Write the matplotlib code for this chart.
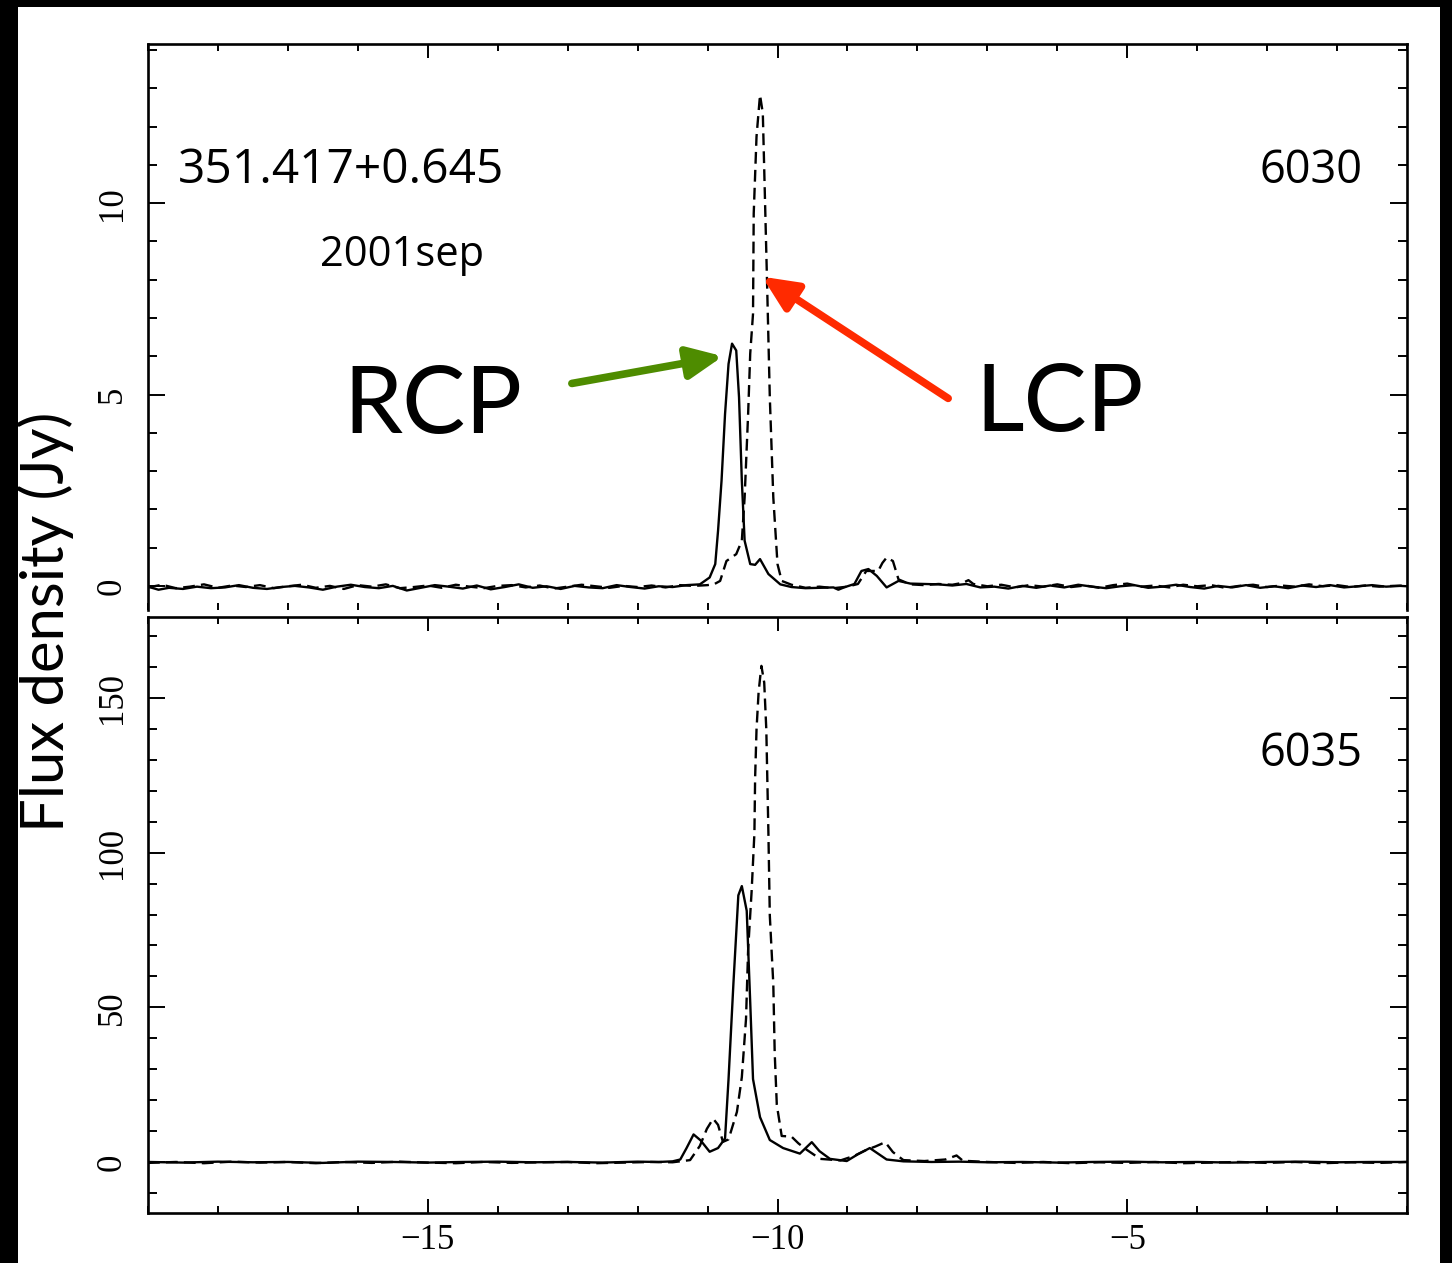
import matplotlib
matplotlib.use("Agg")
import matplotlib.pyplot as plt
from matplotlib.patches import Rectangle
from matplotlib.ticker import MultipleLocator, FixedLocator

# ---------------- data (velocity km/s, flux density Jy) ----------------
# Top panel: 6030 MHz
top_rcp_v = [-19.0, -18.85, -18.7, -18.5, -18.3, -18.1, -17.9, -17.7, -17.5, -17.3,
             -17.1, -16.9, -16.7, -16.5, -16.3, -16.1, -15.9, -15.7, -15.5, -15.3,
             -15.1, -14.9, -14.7, -14.5, -14.3, -14.1, -13.9, -13.7, -13.5, -13.3,
             -13.1, -12.9, -12.7, -12.5, -12.3, -12.1, -11.9, -11.7, -11.5, -11.3,
             -11.11, -10.97, -10.89, -10.85, -10.80, -10.75, -10.70, -10.65, -10.59,
             -10.55, -10.51, -10.47, -10.39, -10.32, -10.25, -10.13, -9.96,
             -9.8, -9.6, -9.4, -9.2, -9.13, -9.05, -8.9, -8.8, -8.7, -8.58, -8.44,
             -8.27, -8.1, -7.9, -7.7, -7.5, -7.3, -7.1, -6.9, -6.7, -6.5, -6.3,
             -6.1, -5.9, -5.7, -5.5, -5.3, -5.1, -4.9, -4.7, -4.5, -4.3, -4.1,
             -3.9, -3.7, -3.5, -3.3, -3.1, -2.9, -2.7, -2.5, -2.3, -2.1, -1.9,
             -1.7, -1.5, -1.3, -1.1, -1.0]
top_rcp_f = [-0.02, -0.10, -0.05, -0.08, -0.02, -0.06, -0.04, 0.02, -0.05, -0.08,
             -0.03, 0.00, -0.04, -0.10, -0.02, 0.03, -0.03, -0.06, 0.00, -0.12,
             -0.05, 0.02, -0.02, -0.07, 0.01, -0.09, -0.03, 0.04, -0.05, -0.01,
             -0.08, 0.00, -0.04, -0.06, 0.02, -0.03, -0.07, -0.01, -0.03, 0.02,
             0.04, 0.22, 0.57, 1.44, 2.75, 4.49, 5.80, 6.33, 6.15,
             4.93, 2.75, 1.18, 0.57, 0.55, 0.70, 0.31, 0.04,
             -0.03, -0.06, -0.05, -0.04, -0.10, -0.04, 0.05, 0.39, 0.44, 0.26, -0.04,
             0.13, 0.06, 0.05, 0.04, 0.01, 0.05, -0.04, -0.02, -0.07, 0.00, -0.05,
             0.01, -0.04, 0.03, -0.02, -0.06, -0.01, 0.02, -0.05, -0.02, 0.03, -0.03,
             -0.07, 0.00, -0.04, 0.02, -0.05, -0.01, -0.06, 0.01, -0.03, 0.02, -0.04,
             -0.01, 0.02, -0.02, 0.00, -0.01]

top_lcp_v = [-19.0, -18.8, -18.6, -18.4, -18.2, -18.0, -17.8, -17.6, -17.4, -17.2,
             -17.0, -16.8, -16.6, -16.4, -16.2, -16.0, -15.8, -15.6, -15.4, -15.2,
             -15.0, -14.8, -14.6, -14.4, -14.2, -14.0, -13.8, -13.6, -13.4, -13.2,
             -13.0, -12.8, -12.6, -12.4, -12.2, -12.0, -11.8, -11.6, -11.4, -11.2,
             -11.0, -10.9, -10.82, -10.73, -10.59, -10.51, -10.47, -10.42, -10.39,
             -10.35, -10.34, -10.30, -10.25, -10.21, -10.18, -10.15, -10.11, -10.06,
             -10.00, -9.94, -9.8, -9.6, -9.4, -9.2, -9.0, -8.85, -8.73, -8.56, -8.50,
             -8.44, -8.35, -8.27, -8.1, -7.9, -7.7, -7.5, -7.35, -7.27, -7.2, -7.0,
             -6.8, -6.6, -6.4, -6.2, -6.0, -5.8, -5.6, -5.4, -5.2, -5.0, -4.8, -4.6,
             -4.4, -4.2, -4.0, -3.8, -3.6, -3.4, -3.2, -3.0, -2.8, -2.6, -2.4, -2.2,
             -2.0, -1.8, -1.6, -1.4, -1.2, -1.0]
top_lcp_f = [-0.04, 0.03, -0.06, -0.02, 0.04, -0.05, 0.01, -0.03, 0.02, -0.06,
             -0.01, 0.03, -0.05, 0.00, -0.08, 0.02, -0.02, 0.04, -0.06, -0.03,
             0.01, -0.05, 0.03, -0.02, -0.06, 0.00, 0.02, -0.04, 0.01, -0.07,
             -0.02, 0.03, -0.01, -0.05, 0.00, -0.03, 0.01, -0.04, 0.02, 0.00,
             0.02, 0.05, 0.13, 0.65, 0.83, 1.18, 2.31, 4.49, 6.07,
             7.11, 9.73, 11.74, 12.83, 12.35, 10.17, 7.98, 4.93, 2.31,
             0.57, 0.13, 0.03, -0.05, -0.02, -0.06, -0.02, 0.05, 0.39, 0.39, 0.60,
             0.74, 0.65, 0.17, 0.04, 0.02, 0.05, 0.03, 0.08, 0.15, 0.05, -0.01,
             0.03, -0.04, 0.02, -0.02, 0.04, -0.03, 0.01, -0.05, 0.02, 0.06, -0.02, 0.01,
             -0.04, 0.03, -0.01, 0.02, -0.05, 0.00, 0.03, -0.03, 0.01, -0.02, 0.04, -0.01,
             0.02, -0.03, 0.01, -0.02, 0.00, 0.01]

# Bottom panel: 6035 MHz
bot_rcp_v = [-19.0, -18.5, -18.0, -17.5, -17.0, -16.5, -16.0, -15.5, -15.0, -14.5,
             -14.0, -13.5, -13.0, -12.5, -12.0, -11.7, -11.5, -11.39, -11.3, -11.20,
             -11.1, -10.97, -10.85, -10.75, -10.70, -10.63, -10.56, -10.51, -10.44,
             -10.39, -10.35, -10.25, -10.11, -9.92, -9.68, -9.51, -9.4, -9.25, -9.01,
             -8.85, -8.68, -8.55, -8.44, -8.2, -7.8, -7.4, -7.0, -6.5, -6.0, -5.5,
             -5.0, -4.5, -4.0, -3.5, -3.0, -2.5, -2.0, -1.5, -1.0]
bot_rcp_f = [0.0, -0.2, 0.1, -0.1, 0.0, -0.3, 0.1, 0.0, -0.2, 0.0,
             0.1, -0.1, 0.0, -0.2, 0.1, 0.0, 0.2, 0.8, 4.5, 8.9,
             7.0, 3.3, 4.5, 7.6, 26.8, 57.8, 86.2, 89.2, 81.2,
             51.6, 26.8, 14.5, 7.1, 4.5, 2.7, 6.4, 3.5, 1.0, 0.3,
             2.5, 4.5, 2.5, 0.8, 0.2, 0.0, 0.1, -0.1, 0.0, -0.2, 0.0,
             0.1, -0.1, 0.0, -0.2, 0.0, 0.1, -0.1, 0.0, 0.0]

bot_lcp_v = [-19.0, -18.6, -18.2, -17.8, -17.4, -17.0, -16.6, -16.2, -15.8, -15.4,
             -15.0, -14.6, -14.2, -13.8, -13.4, -13.0, -12.6, -12.2, -11.8, -11.5,
             -11.25, -11.11, -11.01, -10.92, -10.85, -10.78, -10.70, -10.58, -10.51,
             -10.45, -10.42, -10.37, -10.33, -10.32, -10.30, -10.27, -10.23, -10.19,
             -10.16, -10.13, -10.11, -10.06, -10.04, -10.01, -9.94, -9.80, -9.70,
             -9.58, -9.39, -9.1, -8.9, -8.73, -8.6, -8.46, -8.35, -8.2, -7.9, -7.6,
             -7.44, -7.35, -7.0, -6.6, -6.2, -5.8, -5.4, -5.0, -4.6, -4.2, -3.8,
             -3.4, -3.0, -2.6, -2.2, -1.8, -1.4, -1.0]
bot_lcp_f = [-0.3, 0.0, -0.4, 0.1, -0.2, 0.0, -0.4, 0.0, -0.3, 0.1,
             -0.2, -0.4, 0.0, -0.3, -0.1, 0.0, -0.4, -0.2, 0.0, -0.1,
             0.6, 5.2, 10.7, 14.0, 12.0, 6.5, 7.3, 16.2, 27.4,
             46.3, 68.6, 87.5, 106.4, 124.2, 139.8, 152.0, 160.4, 155.0,
             139.8, 106.4, 79.7, 57.5, 35.2, 18.5, 8.4, 8.2, 6.0,
             3.9, 1.0, 0.5, 2.0, 3.9, 5.0, 6.4, 3.2, 0.6, 0.3, 0.8,
             2.1, 0.4, 0.0, -0.3, 0.0, -0.4, -0.1, -0.3, 0.0, -0.4, -0.2,
             0.0, -0.3, 0.0, -0.4, -0.1, -0.3, 0.0]

x_major = [-15, -10, -5]
top_y_major = [0, 5, 10]
bot_y_major = [0, 50, 100, 150]

# ---------------- figure ----------------
W, H = 1452, 1263
fig = plt.figure(figsize=(W / 100, H / 100), dpi=100, facecolor="black")
fig.patches.append(Rectangle((18 / W, 0), (1440 - 18) / W, (H - 7) / H,
                             transform=fig.transFigure, facecolor="white",
                             edgecolor="none", zorder=-10))

def axrect(left, top, right, bottom):
    return [left / W, 1 - bottom / H, (right - left) / W, (bottom - top) / H]

ax1 = fig.add_axes(axrect(148, 44, 1407, 610))
ax2 = fig.add_axes(axrect(148, 617, 1407, 1213))

tick_family = "Liberation Serif"
lw_line = 1.7
dash = (0, (5.0, 2.6))

for ax in (ax1, ax2):
    ax.set_facecolor("none")
    ax.set_xlim(-19, -1)
    ax.xaxis.set_major_locator(FixedLocator(x_major))
    ax.xaxis.set_minor_locator(MultipleLocator(1))
    for s in ax.spines.values():
        s.set_linewidth(1.9)
    ax.tick_params(which="both", direction="in", top=True, right=True,
                   width=1.4, color="black", labelsize=25,
                   labelfontfamily=tick_family)
    ax.tick_params(axis="x", which="major", length=10)
    ax.tick_params(axis="x", which="minor", length=5)
    ax.tick_params(axis="y", which="major", length=12, pad=14, labelrotation=90)
    ax.tick_params(axis="y", which="minor", length=6.5)

ax1.plot(top_rcp_v, top_rcp_f, color="black", lw=lw_line)
ax1.plot(top_lcp_v, top_lcp_f, color="black", lw=lw_line, linestyle=dash)
ax1.set_ylim(-0.63, 14.16)
ax1.yaxis.set_major_locator(FixedLocator(top_y_major))
ax1.yaxis.set_minor_locator(MultipleLocator(1))
ax1.spines["bottom"].set_visible(False)
ax1.tick_params(axis="x", labelbottom=False, bottom=False)

ax2.plot(bot_rcp_v, bot_rcp_f, color="black", lw=lw_line)
ax2.plot(bot_lcp_v, bot_lcp_f, color="black", lw=lw_line, linestyle=dash)
ax2.set_ylim(-16.5, 176.2)
ax2.yaxis.set_major_locator(FixedLocator(bot_y_major))
ax2.yaxis.set_minor_locator(MultipleLocator(10))
ax2.tick_params(axis="x", which="major", pad=8)

for ax in (ax1, ax2):
    for lab in ax.get_yticklabels():
        lab.set_va("center")

# ---------------- annotations ----------------
label_font = ["Open Sans", "DejaVu Sans"]
ax1.text(0.0238, 0.754, "351.417+0.645", transform=ax1.transAxes,
         fontsize=34.5, family=label_font, ha="left", va="baseline")
ax1.text(0.965, 0.754, "6030", transform=ax1.transAxes,
         fontsize=32.5, family=label_font, ha="right", va="baseline")
ax1.text(0.1366, 0.607, "2001sep", transform=ax1.transAxes,
         fontsize=30, family=label_font, ha="left", va="baseline")
ax2.text(0.965, 0.750, "6035", transform=ax2.transAxes,
         fontsize=32.5, family=label_font, ha="right", va="baseline")

big_font = ["Lato", "DejaVu Sans"]
ax1.text(0.155, 0.313, "RCP", transform=ax1.transAxes,
         fontsize=68, family=big_font, ha="left", va="baseline")
ax1.text(0.657, 0.317, "LCP", transform=ax1.transAxes,
         fontsize=68, family=big_font, ha="left", va="baseline")

arrow_style = "-|>,head_length=0.7,head_width=0.32"
ax1.annotate("", xy=(-10.78, 6.0), xytext=(-12.94, 5.29),
             arrowprops=dict(arrowstyle=arrow_style, color="#4e8c00", lw=5.5,
                             mutation_scale=30, shrinkA=0, shrinkB=0))
ax1.annotate("", xy=(-10.22, 8.08), xytext=(-7.56, 4.90),
             arrowprops=dict(arrowstyle=arrow_style, color="#ff2a00", lw=5.5,
                             mutation_scale=30, shrinkA=0, shrinkB=0))

fig.text(46 / W, 1 - 622 / H, "Flux density (Jy)", rotation=90,
         fontsize=43, family=big_font, ha="center", va="center")

fig.savefig("out.png", dpi=100, facecolor=fig.get_facecolor())
